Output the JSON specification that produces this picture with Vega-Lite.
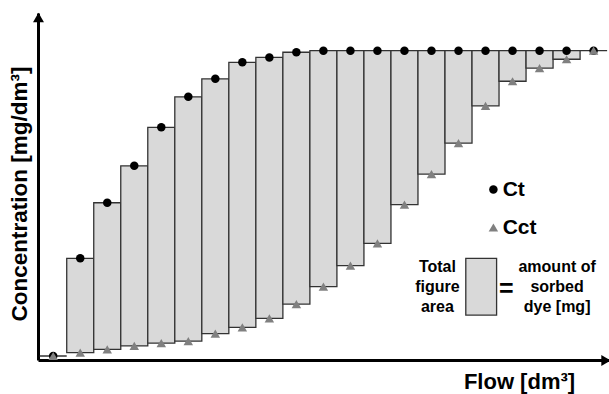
{
  "$schema": "https://vega.github.io/schema/vega-lite/v6.json",
  "autosize": "none",
  "width": 571,
  "height": 347,
  "padding": {"left": 38, "top": 13, "right": 0, "bottom": 34},
  "background": "white",
  "config": {
    "view": {"stroke": null},
    "font": "Liberation Sans",
    "axis": {"domainColor": "#000000", "domainWidth": 3, "ticks": false, "labels": false, "grid": false, "titleFont": "Liberation Sans", "titleFontWeight": "bold", "titleColor": "#000000"},
    "legend": {"orient": "none", "legendX": 444.9, "legendY": 166, "padding": 0, "symbolSize": 72, "symbolStrokeWidth": 0, "labelFont": "Liberation Sans", "labelFontWeight": "bold", "labelFontSize": 21, "labelColor": "#000000", "labelOffset": -1.2, "rowPadding": 16, "labelBaseline": "middle"}
  },
  "data": {
    "values": [
      {"V0": 0, "V1": 1, "V": 0.5, "Ct": 0, "Cct": 0},
      {"V0": 1, "V1": 2, "V": 1.5, "Ct": 32.0, "Cct": 1.1},
      {"V0": 2, "V1": 3, "V": 2.5, "Ct": 50.2, "Cct": 2.2},
      {"V0": 3, "V1": 4, "V": 3.5, "Ct": 62.3, "Cct": 3.3},
      {"V0": 4, "V1": 5, "V": 4.5, "Ct": 74.9, "Cct": 4.2},
      {"V0": 5, "V1": 6, "V": 5.5, "Ct": 84.9, "Cct": 4.9},
      {"V0": 6, "V1": 7, "V": 6.5, "Ct": 90.8, "Cct": 7.3},
      {"V0": 7, "V1": 8, "V": 7.5, "Ct": 96.2, "Cct": 9.4},
      {"V0": 8, "V1": 9, "V": 8.5, "Ct": 97.8, "Cct": 12.3},
      {"V0": 9, "V1": 10, "V": 9.5, "Ct": 99.5, "Cct": 17.0},
      {"V0": 10, "V1": 11, "V": 10.5, "Ct": 100, "Cct": 22.7},
      {"V0": 11, "V1": 12, "V": 11.5, "Ct": 100, "Cct": 29.6},
      {"V0": 12, "V1": 13, "V": 12.5, "Ct": 100, "Cct": 36.9},
      {"V0": 13, "V1": 14, "V": 13.5, "Ct": 100, "Cct": 49.6},
      {"V0": 14, "V1": 15, "V": 14.5, "Ct": 100, "Cct": 59.6},
      {"V0": 15, "V1": 16, "V": 15.5, "Ct": 100, "Cct": 69.7},
      {"V0": 16, "V1": 17, "V": 16.5, "Ct": 100, "Cct": 81.9},
      {"V0": 17, "V1": 18, "V": 17.5, "Ct": 100, "Cct": 90.0},
      {"V0": 18, "V1": 19, "V": 18.5, "Ct": 100, "Cct": 94.3},
      {"V0": 19, "V1": 20, "V": 19.5, "Ct": 100, "Cct": 97.2},
      {"V0": 20, "V1": 21, "V": 20.5, "Ct": 100, "Cct": 100}
    ]
  },
  "layer": [
    {
      "mark": {"type": "rect", "fill": "#d9d9d9", "stroke": "#333333", "strokeWidth": 1.3},
      "encoding": {
        "x": {"field": "V0", "type": "quantitative", "scale": {"domain": [-0.063, 21.07], "nice": false, "zero": false},
              "axis": {"title": "Flow [dm³]", "titleFontSize": 22, "titleX": 481, "titleY": 28.3, "titleAlign": "center", "titleBaseline": "alphabetic", "titleAnchor": null}},
        "x2": {"field": "V1"},
        "y": {"field": "Cct", "type": "quantitative", "scale": {"domain": [-1.31, 112.35], "nice": false, "zero": false},
              "axis": {"title": "Concentration [mg/dm³]", "titleFontSize": 22.5, "titleX": -11.5, "titleY": 180.5, "titleAlign": "center", "titleBaseline": "alphabetic", "titleAngle": -90, "titleAnchor": null}},
        "y2": {"field": "Ct"}
      }
    },
    {
      "transform": [{"fold": ["Ct", "Cct"], "as": ["series", "C"]}],
      "mark": {"type": "point", "filled": true, "opacity": 1, "strokeWidth": 0},
      "encoding": {
        "x": {"field": "V", "type": "quantitative"},
        "y": {"field": "C", "type": "quantitative"},
        "color": {"field": "series", "type": "nominal", "scale": {"domain": ["Ct", "Cct"], "range": ["#000000", "#808080"]}, "legend": {"title": null}},
        "shape": {"field": "series", "type": "nominal", "scale": {"domain": ["Ct", "Cct"], "range": ["circle", "triangle-up"]}, "legend": {"title": null}},
        "size": {"field": "series", "type": "nominal", "scale": {"domain": ["Ct", "Cct"], "range": [72, 90]}, "legend": null}
      }
    },
    {
      "data": {"values": [{}]},
      "mark": {"type": "point", "shape": "triangle-up", "filled": true, "color": "#000000", "opacity": 1, "size": 120, "strokeWidth": 0},
      "encoding": {
        "x": {"datum": -0.045, "type": "quantitative"},
        "y": {"datum": 110.9, "type": "quantitative"}
      }
    },
    {
      "data": {"values": [{}]},
      "mark": {"type": "point", "shape": "triangle-right", "filled": true, "color": "#000000", "opacity": 1, "size": 120, "strokeWidth": 0},
      "encoding": {
        "x": {"datum": 20.96, "type": "quantitative"},
        "y": {"datum": -1.47, "type": "quantitative"}
      }
    },
    {
      "data": {"values": [{}]},
      "mark": {"type": "rect", "fill": "#d9d9d9", "stroke": "#333333", "strokeWidth": 1.3},
      "encoding": {
        "x": {"datum": 15.77, "type": "quantitative"},
        "x2": {"datum": 16.91},
        "y": {"datum": 32.0, "type": "quantitative"},
        "y2": {"datum": 13.4}
      }
    },
    {
      "data": {"values": [{}]},
      "mark": {"type": "text", "text": ["Total", "figure", "area"], "lineHeight": 20, "align": "center", "baseline": "alphabetic", "font": "Liberation Sans", "fontWeight": "bold", "fontSize": 16, "color": "#000000"},
      "encoding": {
        "x": {"datum": 14.72, "type": "quantitative"},
        "y": {"datum": 27.61, "type": "quantitative"}
      }
    },
    {
      "data": {"values": [{}]},
      "mark": {"type": "text", "text": ["amount of", "sorbed", "dye [mg]"], "lineHeight": 20, "align": "center", "baseline": "alphabetic", "font": "Liberation Sans", "fontWeight": "bold", "fontSize": 16, "color": "#000000"},
      "encoding": {
        "x": {"datum": 19.15, "type": "quantitative"},
        "y": {"datum": 27.61, "type": "quantitative"}
      }
    },
    {
      "data": {"values": [{}]},
      "mark": {"type": "text", "text": "=", "align": "center", "baseline": "alphabetic", "font": "Liberation Sans", "fontWeight": "bold", "fontSize": 25, "color": "#000000"},
      "encoding": {
        "x": {"datum": 17.27, "type": "quantitative"},
        "y": {"datum": 19.46, "type": "quantitative"}
      }
    }
  ]
}
